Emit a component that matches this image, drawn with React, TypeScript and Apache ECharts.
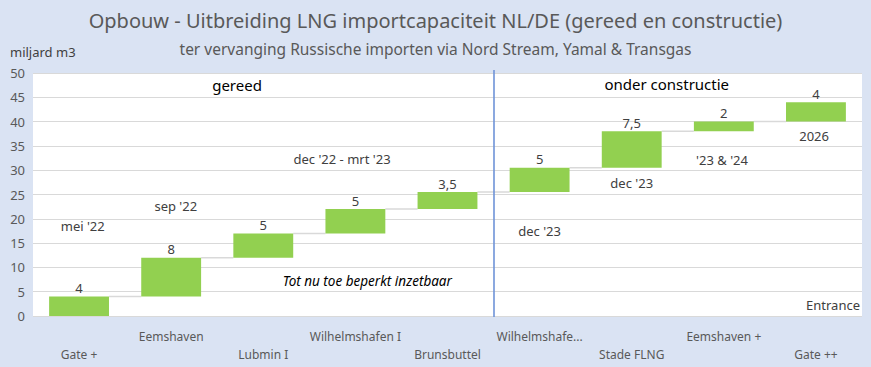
import React, { useEffect, useRef } from "react";
import * as echarts from "echarts";

const categories = [
  "Gate +",
  "Eemshaven",
  "Lubmin I",
  "Wilhelmshafen I",
  "Brunsbuttel",
  "Wilhelmshafe...",
  "Stade FLNG",
  "Eemshaven +",
  "Gate ++",
];
const increments = [4, 8, 5, 5, 3.5, 5, 7.5, 2, 4];
const yTicks = { min: 0, max: 50, interval: 5 };

// annotation texts and their position in (category index, value)
const noteTexts = [
  "gereed",
  "onder constructie",
  "mei '22",
  "sep '22",
  "dec '22 - mrt '23",
  "dec '23",
  "dec '23",
  "'23 & '24",
  "2026",
  "Tot nu toe beperkt inzetbaar",
  "Entrance",
];
const notePositions: [number, number][] = [
  [1.715, 47.6],
  [6.38, 47.8],
  [0.04, 18.5],
  [1.05, 22.6],
  [2.855, 32.3],
  [5.0, 17.5],
  [6.0, 27.4],
  [6.98, 32.1],
  [7.98, 37.0],
  [3.13, 7.3],
  [8.93, 2.2],
];
const noteKinds = ["head", "head", "n", "n", "n", "n", "n", "n", "n", "italic", "right"];
const sectionSplitAfter = 4; // blue divider between index 4 and 5

const FONT = "'Noto Sans', 'Open Sans', sans-serif";

export default function App() {
  const ref = useRef<HTMLDivElement>(null);
  useEffect(() => {
    if (!ref.current) return;
    const chart = echarts.init(ref.current, undefined, { renderer: "svg" });

    const bases: number[] = [];
    const ends: number[] = [];
    let acc = 0;
    increments.forEach((v) => {
      bases.push(acc);
      acc += v;
      ends.push(acc);
    });

    chart.setOption({
      animation: false,
      backgroundColor: "#dae3f3",
      textStyle: { fontFamily: FONT },
      title: [
        {
          text: "Opbouw - Uitbreiding LNG importcapaciteit NL/DE (gereed en constructie)",
          left: "center",
          top: 5,
          textStyle: { fontSize: 20, fontWeight: "normal", color: "#595959", fontFamily: FONT },
        },
        {
          text: "ter vervanging Russische importen via Nord Stream, Yamal & Transgas",
          left: "center",
          top: 36,
          textStyle: { fontSize: 15.5, fontWeight: "normal", color: "#595959", fontFamily: FONT },
        },
        {
          text: "miljard m3",
          left: 5,
          top: 40,
          textStyle: { fontSize: 13, fontWeight: "normal", color: "#404040", fontFamily: FONT },
        },
      ],
      grid: {
        left: 33,
        right: 9,
        top: 73,
        bottom: 51,
        show: true,
        backgroundColor: "#ffffff",
        borderWidth: 0,
      },
      xAxis: {
        type: "category",
        data: categories,
        axisLine: { show: false },
        axisTick: { show: false },
        axisLabel: {
          interval: 0,
          margin: 11,
          color: "#595959",
          fontSize: 12,
          lineHeight: 18,
          fontFamily: FONT,
          formatter: (v: string, i: number) => (i % 2 === 0 ? "\n" + v : v),
        },
      },
      yAxis: {
        type: "value",
        min: yTicks.min,
        max: yTicks.max,
        interval: yTicks.interval,
        axisLine: { show: false },
        axisTick: { show: false },
        axisLabel: { color: "#595959", fontSize: 13, margin: 8, fontFamily: FONT },
        splitLine: { lineStyle: { color: "#d9d9d9", width: 1 } },
      },
      series: [
        {
          type: "bar",
          stack: "w",
          data: bases,
          barWidth: "65%",
          itemStyle: { color: "transparent" },
          silent: true,
        },
        {
          type: "bar",
          stack: "w",
          data: increments,
          barWidth: "65%",
          itemStyle: { color: "#92d050" },
          label: {
            show: true,
            position: "top",
            distance: 2,
            color: "#404040",
            fontSize: 13,
            fontFamily: FONT,
            formatter: (p: any) => String(p.value).replace(".", ","),
          },
        },
        {
          type: "custom",
          silent: true,
          z: 1,
          data: ends.slice(0, -1).map((e, i) => [i, e]),
          renderItem: (params: any, api: any) => {
            const i = api.value(0);
            const v = api.value(1);
            const p = api.coord([i, v]);
            const bw = api.size([1, 0])[0];
            const hw = bw * 0.325;
            return {
              type: "line",
              shape: { x1: p[0] + hw, y1: p[1], x2: p[0] + bw - hw, y2: p[1] },
              style: { stroke: "#d9d9d9", lineWidth: 1.5 },
            };
          },
        },
      ],
    });

    const x0 = chart.convertToPixel({ xAxisIndex: 0 }, 0) as number;
    const x1 = chart.convertToPixel({ xAxisIndex: 0 }, 1) as number;
    const xAt = (f: number) => x0 + f * (x1 - x0);
    const yAt = (v: number) => chart.convertToPixel({ yAxisIndex: 0 }, v) as number;

    const graphics: any[] = noteTexts.map((t, k) => {
      const kind = noteKinds[k];
      const [f, v] = notePositions[k];
      const style: any = {
        text: t,
        fill: kind === "head" || kind === "italic" ? "#000000" : "#404040",
        font:
          kind === "head"
            ? `15px ${FONT}`
            : kind === "italic"
            ? `italic 13.5px ${FONT}`
            : `13px ${FONT}`,
        textAlign: kind === "right" ? "right" : "center",
        textVerticalAlign: "middle",
      };
      return {
        type: "text",
        x: kind === "right" ? chart.getWidth() - 11 : xAt(f),
        y: yAt(v),
        style,
        z: 10,
      };
    });
    const divX = Math.round(xAt(sectionSplitAfter + 0.5));
    graphics.push({
      type: "line",
      shape: { x1: divX, y1: 70, x2: divX, y2: yAt(0) + 1 },
      style: { stroke: "#6f93d8", lineWidth: 1.6 },
      z: 10,
    });
    chart.setOption({ graphic: graphics });

    return () => chart.dispose();
  }, []);
  return (
    <div
      ref={ref}
      style={{ position: "absolute", left: 0, top: 0, width: 871, height: 367 }}
    />
  );
}
